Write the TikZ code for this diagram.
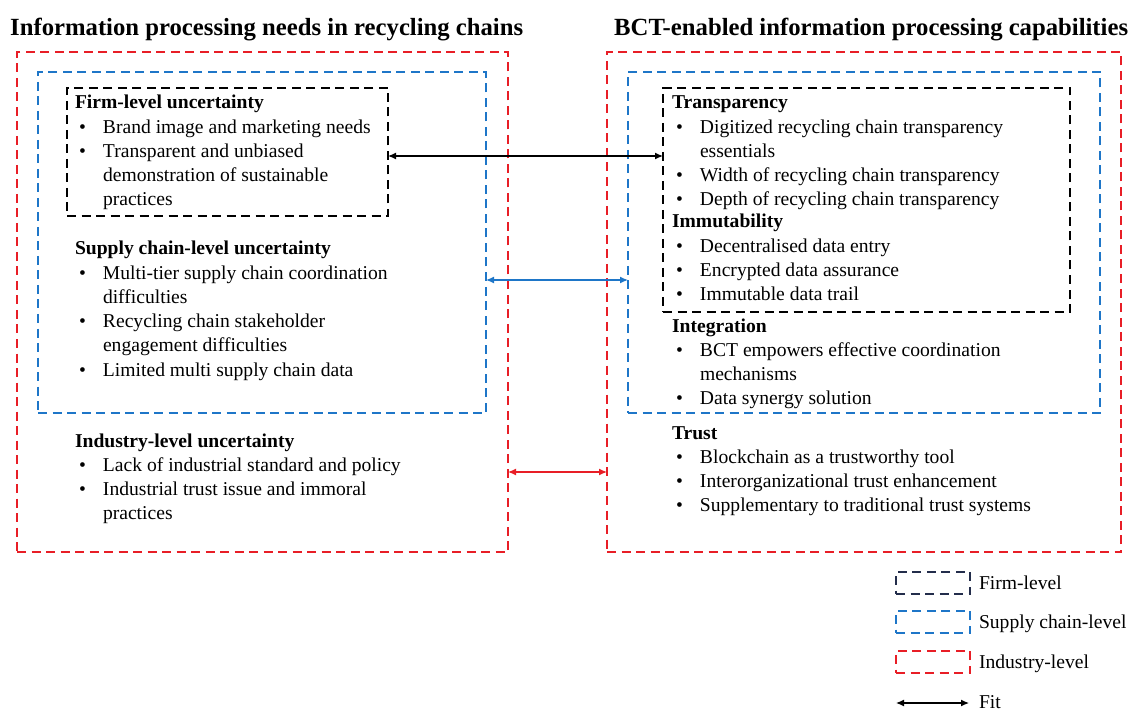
\documentclass[tikz,border=0pt]{standalone}
\usepackage{fontspec}
\setmainfont{Liberation Serif}
\usetikzlibrary{arrows.meta}
\definecolor{lvred}{RGB}{232,30,38}
\definecolor{lvblue}{RGB}{30,118,200}
\definecolor{lvnavy}{RGB}{35,45,75}
\newcommand{\secthead}[1]{\multicolumn{2}{@{\hspace{-4pt}}l@{}}{\textbf{#1}}}
\newcommand{\bl}{\textbullet}
\begin{document}
\begin{tikzpicture}[x=1pt,y=-1pt,
  lvbox/.style={draw, rectangle, line width=1.8pt, dash pattern=on 9pt off 5.5pt,
    inner sep=0pt, outer sep=0pt, anchor=north west},
  txt/.style={anchor=base west, inner sep=0pt, outer sep=0pt,
    font=\fontsize{19.6}{24.2}\selectfont},
  ttl/.style={anchor=base west, inner sep=0pt, font=\fontsize{24.7}{28}\selectfont\bfseries},
  fitarrow/.style={{Latex[length=8pt,width=7pt]}-{Latex[length=8pt,width=7pt]}, line width=1.2pt},
]
\useasboundingbox (0,0) rectangle (1132,711);

% column titles
\node[ttl] (ltitle) at (10,36) {Information processing needs in recycling chains};
\node[ttl] (rtitle) at (614,36) {BCT-enabled information processing capabilities};

% nested level boxes, left
\node[lvbox, lvred, minimum width=491pt, minimum height=500pt] (lr) at (17,52) {};
\node[lvbox, lvblue, minimum width=448pt, minimum height=341pt] (lb) at (38,72) {};
\node[lvbox, black, minimum width=321pt, minimum height=128pt] (lk) at (67,88) {};

% nested level boxes, right
\node[lvbox, lvred, minimum width=514pt, minimum height=500pt] (rr) at (607,52) {};
\node[lvbox, lvblue, minimum width=472pt, minimum height=341pt] (rb) at (628,72) {};
\node[lvbox, black, minimum width=407pt, minimum height=224pt] (rk) at (663,88) {};

% left texts
\node[txt] (firm) at (79,109) {\begin{tabular}[t]{@{}p{24pt}@{}l@{}}
\secthead{Firm-level uncertainty}\\
\bl & Brand image and marketing needs\\
\bl & Transparent and unbiased\\
    & demonstration of sustainable\\
    & practices
\end{tabular}};
\node[txt] (supply) at (79,255) {\begin{tabular}[t]{@{}p{24pt}@{}l@{}}
\secthead{Supply chain-level uncertainty}\\
\bl & Multi-tier supply chain coordination\\
    & difficulties\\
\bl & Recycling chain stakeholder\\
    & engagement difficulties\\
\bl & Limited multi supply chain data
\end{tabular}};
\node[txt] (industry) at (79,447) {\begin{tabular}[t]{@{}p{24pt}@{}l@{}}
\secthead{Industry-level uncertainty}\\
\bl & Lack of industrial standard and policy\\
\bl & Industrial trust issue and immoral\\
    & practices
\end{tabular}};

% right texts
\node[txt] (transp) at (676,109) {\begin{tabular}[t]{@{}p{24pt}@{}l@{}}
\secthead{Transparency}\\
\bl & Digitized recycling chain transparency\\
    & essentials\\
\bl & Width of recycling chain transparency\\
\bl & Depth of recycling chain transparency
\end{tabular}};
\node[txt] (immut) at (676,228) {\begin{tabular}[t]{@{}p{24pt}@{}l@{}}
\secthead{Immutability}\\
\bl & Decentralised data entry\\
\bl & Encrypted data assurance\\
\bl & Immutable data trail
\end{tabular}};
\node[txt] (integ) at (676,332) {\begin{tabular}[t]{@{}p{24pt}@{}l@{}}
\secthead{Integration}\\
\bl & BCT empowers effective coordination\\
    & mechanisms\\
\bl & Data synergy solution
\end{tabular}};
\node[txt] (trust) at (676,439) {\begin{tabular}[t]{@{}p{24pt}@{}l@{}}
\secthead{Trust}\\
\bl & Blockchain as a trustworthy tool\\
\bl & Interorganizational trust enhancement\\
\bl & Supplementary to traditional trust systems
\end{tabular}};

% fit arrows between matching levels
\coordinate (yfirm) at (0,156);
\coordinate (ysupply) at (0,280);
\coordinate (yindustry) at (0,472);
\draw[fitarrow, black] (lk.east |- yfirm) -- (rk.west |- yfirm);
\draw[fitarrow, lvblue] (lb.east |- ysupply) -- (rb.west |- ysupply);
\draw[fitarrow, lvred] (lr.east |- yindustry) -- (rr.west |- yindustry);

% legend
\node[lvbox, lvnavy, minimum width=74pt, minimum height=22pt] (legfirm) at (896,572) {};
\node[lvbox, lvblue, minimum width=74pt, minimum height=22pt] (legsupply) at (896,611) {};
\node[lvbox, lvred, minimum width=74pt, minimum height=22pt] (legindustry) at (896,651) {};
\node[txt] (legfirmtxt) at (979,589) {Firm-level};
\node[txt] (legsupplytxt) at (979,628) {Supply chain-level};
\node[txt] (legindustrytxt) at (979,668) {Industry-level};
\coordinate (fitstart) at (896,703);
\coordinate (fitend) at (969,703);
\node[txt] (legfittxt) at (979,708) {Fit};
\draw[fitarrow, black] (fitstart) -- (fitend);
\end{tikzpicture}
\end{document}
